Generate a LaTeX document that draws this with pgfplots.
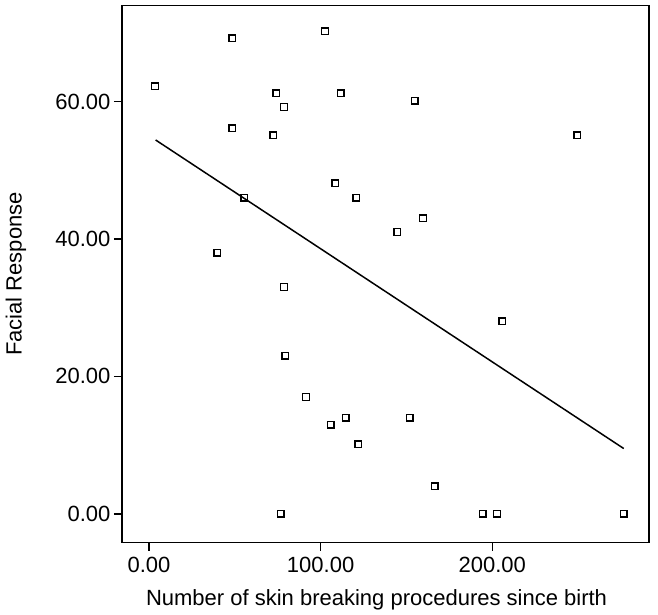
\documentclass[border=0pt]{standalone}
\usepackage{fontspec}
\setmainfont{Liberation Sans}
\usepackage{pgfplots}
\pgfplotsset{compat=1.18}

\begin{document}
\begin{tikzpicture}
\path[use as bounding box] (-122pt,-71.3pt) rectangle (536pt,542.7pt);
\begin{axis}[
  at={(0,0)}, anchor=south west,
  scale only axis, width=527pt, height=537.4pt,
  xmin=-15.7, xmax=291.3, ymin=-4.2, ymax=74,
  xtick={0,100,200}, ytick={0,20,40,60},
  xticklabels={0.00,100.00,200.00},
  yticklabels={0.00,20.00,40.00,60.00},
  tick align=outside, tick pos=left,
  major tick length=8pt,
  axis line style={line width=1.5pt},
  every tick/.style={line width=1.5pt, black},
  tick label style={font=\fontsize{22}{26}\selectfont},
  xticklabel style={yshift=-3pt},
  xlabel={Number of skin breaking procedures since birth},
  ylabel={Facial Response},
  label style={font=\fontsize{22}{26}\selectfont},
  xlabel style={at={(axis description cs:0.483,0)}, anchor=center, yshift=-57pt},
  ylabel style={at={(axis description cs:0,0.5)}, anchor=center, yshift=106pt},
]
\addplot[only marks, mark=square, mark size=3.3pt, mark options={line width=1.4pt, black}] coordinates {
(3.5,62.2) (48.6,69.2) (102.5,70.2) (74.1,61.2) (111.6,61.2) (78.7,59.2)
(154.7,60.1) (48.6,56.1) (72.4,55.1) (249.5,55.1) (108.5,48.1) (120.7,46.0)
(55.5,46.0) (159.6,43.0) (144.7,41.0) (39.7,38.0) (78.7,33.0) (205.8,28.0)
(79.5,23.0) (91.5,17.0) (105.8,13.0) (114.7,14.0) (151.8,14.0) (121.9,10.1)
(166.5,4.0) (76.8,0) (194.4,0) (202.7,0) (276.6,0)
};
\addplot[black, line width=1.5pt] coordinates {(3.9,54.4) (276.6,9.5)};
\end{axis}
\end{tikzpicture}
\end{document}
